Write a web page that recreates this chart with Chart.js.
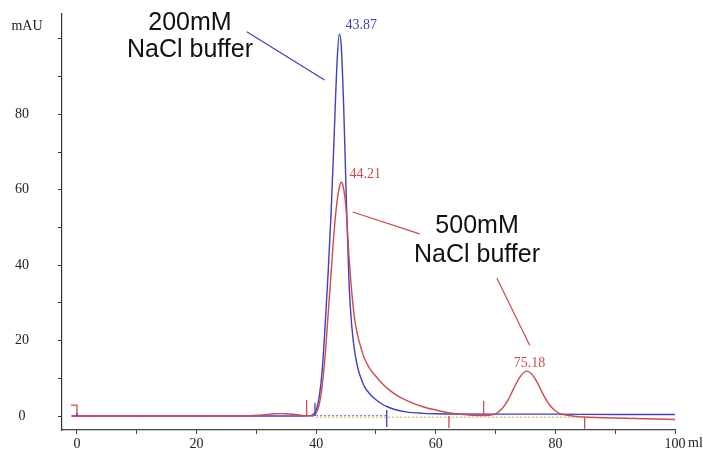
<!DOCTYPE html>
<html>
<head>
<meta charset="utf-8">
<script src="https://cdn.jsdelivr.net/npm/chart.js@4.4.1/dist/chart.umd.min.js"></script>
<style>
  body { margin: 0; background: #fff; }
  canvas { display: block; }
</style>
</head>
<body>
<canvas id="chromatogram" width="703" height="449"></canvas>
<script>
// 200mM NaCl run (blue)
let mlBlue  = [-0.9, 0, 10, 20, 30, 38, 39, 39.5, 40, 40.5, 41, 41.5, 42, 42.5, 43, 43.5, 43.87, 44.2, 44.6, 45, 45.5, 46, 46.5, 47, 47.5, 48, 49, 50, 51, 52, 53, 55, 58, 60, 70, 80, 90, 100];
let mAUBlue = [0, 0, 0, 0, 0, 0, 0.1, 0.4, 1.5, 5, 12, 24, 38, 54, 74, 94, 101.3, 98, 82, 60, 35, 23, 16.5, 12.5, 10, 8, 5.8, 4.3, 3.2, 2.4, 1.8, 1.1, 0.7, 0.6, 0.5, 0.5, 0.4, 0.4];

// 500mM NaCl run (red)
let mlRed  = [-0.9, 0, 10, 20, 28, 31, 33, 34, 35, 36.5, 38, 39.5, 40, 40.5, 41, 41.5, 42, 42.5, 43, 43.5, 44, 44.21, 44.5, 45, 45.5, 46, 46.5, 47, 47.6, 48, 49, 50, 51, 52, 53, 54, 55, 56, 58, 60, 62, 64, 66, 68, 69, 70, 71, 72, 73, 74, 75.18, 76, 77, 78, 79, 80, 81, 82, 84, 90, 100];
let mAURed = [0, 0, 0, 0, 0, 0.3, 0.6, 0.65, 0.6, 0.4, 0.1, 0, 0.8, 3, 8, 16, 27, 38, 49, 57, 61.5, 62, 61, 55, 42, 32, 25, 21, 17.5, 15.5, 12.5, 10.5, 8.7, 7.2, 6, 5, 4.2, 3.5, 2.4, 1.6, 0.9, 0.5, 0.2, 0.1, 0.2, 0.6, 1.8, 4, 7.2, 10.2, 11.9, 11.2, 8.8, 5.6, 3.0, 1.4, 0.5, 0.2, -0.2, -0.5, -0.9];

// dotted baselines
let baseBlueMl = [40, 52];
let baseRedMl = [40, 85];
let baseLevel = -0.3;

// fraction marks: ml, from, to (mAU)
let marksRed  = [[0, 0, 2.9], [38.4, 0, 4.2], [62.2, 0, -3.2], [68.0, 0, 4.0], [84.9, -0.3, -3.4]];
let marksBlue = [[0, 0, 0.8], [39.8, 0, 3.5], [51.8, 1.6, -2.9]];

// peak labels
let peakMl   = [43.87, 44.21, 75.18];
let peakMAU  = [101.3, 62, 11.9];
let peakText = ["43.87", "44.21", "75.18"];

let xTicks = [0, 20, 40, 60, 80, 100];
let yTicks = [0, 20, 40, 60, 80];

let blue = "#3f3fbf";
let red = "#cf4a4a";

function pts(xs, ys) {
    return xs.map(function (x, i) { return {x: x, y: ys[i]}; });
}

let annotate = {
    id: "annotate",
    afterDatasetsDraw: function (chart) {
        let ctx = chart.ctx;
        let sx = chart.scales.x;
        let sy = chart.scales.y;
        let px = function (v) { return sx.getPixelForValue(v); };
        let py = function (v) { return sy.getPixelForValue(v); };

        ctx.save();
        ctx.lineWidth = 1.3;
        // fraction marks
        marksRed.forEach(function (m) {
            ctx.strokeStyle = red;
            ctx.beginPath();
            ctx.moveTo(px(m[0]), py(m[1]));
            ctx.lineTo(px(m[0]), py(m[2]));
            if (m[0] === 0) ctx.lineTo(px(-1), py(m[2]));
            ctx.stroke();
        });
        marksBlue.forEach(function (m) {
            ctx.strokeStyle = blue;
            ctx.beginPath();
            ctx.moveTo(px(m[0]), py(m[1]));
            ctx.lineTo(px(m[0]), py(m[2]));
            ctx.stroke();
        });

        // peak labels
        ctx.font = "14px 'Liberation Serif', serif";
        ctx.textAlign = "center";
        ctx.textBaseline = "middle";
        let colors = [blue, red, red];
        let offs = [[22, -9], [24, -8], [3, -8]];
        peakText.forEach(function (t, i) {
            ctx.fillStyle = colors[i];
            ctx.fillText(t, px(peakMl[i]) + offs[i][0], py(peakMAU[i]) + offs[i][1]);
        });

        // callout lines
        ctx.lineWidth = 1.2;
        ctx.strokeStyle = blue;
        ctx.beginPath();
        ctx.moveTo(px(28.4), py(101.9));
        ctx.lineTo(px(41.4), py(89.1));
        ctx.stroke();
        ctx.strokeStyle = red;
        ctx.beginPath();
        ctx.moveTo(px(46.1), py(54.1));
        ctx.lineTo(px(57.3), py(48.3));
        ctx.moveTo(px(70.2), py(36.6));
        ctx.lineTo(px(75.7), py(18.8));
        ctx.stroke();

        // callout texts
        ctx.fillStyle = "#111";
        ctx.font = "25px 'Liberation Sans', Arial, sans-serif";
        ctx.fillText("200mM", px(18.9), py(104.2));
        ctx.fillText("NaCl buffer", px(18.9), py(97.1));
        ctx.fillText("500mM", px(66.9), py(50.4));
        ctx.fillText("NaCl buffer", px(66.9), py(42.7));

        // axis units
        ctx.fillStyle = "#222";
        ctx.font = "14px 'Liberation Serif', serif";
        ctx.fillText("mAU", 27, 26);
        ctx.textAlign = "left";
        ctx.fillText("ml", sx.right + 13, 443);
        ctx.restore();
    }
};

new Chart("chromatogram", {
    type: "line",
    data: {
        datasets: [{
            data: pts(baseRedMl, [baseLevel, baseLevel]),
            borderColor: "#d9a35a",
            borderWidth: 1,
            borderDash: [2, 2]
        }, {
            data: pts(baseBlueMl, [baseLevel + 0.4, baseLevel + 0.4]),
            borderColor: "#6a6ad0",
            borderWidth: 1,
            borderDash: [2, 2]
        }, {
            data: pts(mlRed, mAURed),
            borderColor: red,
            borderWidth: 1.4,
            cubicInterpolationMode: "monotone"
        }, {
            data: pts(mlBlue, mAUBlue),
            borderColor: blue,
            borderWidth: 1.4,
            cubicInterpolationMode: "monotone"
        }]
    },
    options: {
        responsive: false,
        animation: false,
        layout: {padding: {left: 0, right: 28, top: 14, bottom: 0}},
        elements: {point: {radius: 0}},
        plugins: {legend: {display: false}, tooltip: {enabled: false}},
        scales: {
            x: {
                type: "linear",
                min: -2.5,
                max: 100,
                afterFit: function (s) {
                    s.height = 19;
                    s.paddingLeft = 0;
                    s.paddingRight = 0;
                },
                border: {color: "#444", width: 1.2},
                grid: {drawOnChartArea: false, tickLength: 4, tickColor: "#444"},
                ticks: {
                    stepSize: 10,
                    includeBounds: false,
                    maxRotation: 0,
                    autoSkip: false,
                    padding: 2,
                    color: "#222",
                    font: {family: "'Liberation Serif', serif", size: 14},
                    callback: function (v) { return xTicks.indexOf(v) >= 0 ? v : ""; }
                }
            },
            y: {
                min: -3.7,
                max: 106.6,
                afterFit: function (s) {
                    s.width = 62;
                    s.paddingTop = 0;
                    s.paddingBottom = 0;
                },
                border: {color: "#333", width: 1.2},
                grid: {drawOnChartArea: false, tickLength: 4, tickColor: "#333"},
                ticks: {
                    stepSize: 10,
                    includeBounds: false,
                    autoSkip: false,
                    crossAlign: "center",
                    padding: 29,
                    color: "#222",
                    font: {family: "'Liberation Serif', serif", size: 14},
                    callback: function (v) { return yTicks.indexOf(v) >= 0 ? v : ""; }
                }
            }
        }
    },
    plugins: [annotate]
});
</script>
</body>
</html>
